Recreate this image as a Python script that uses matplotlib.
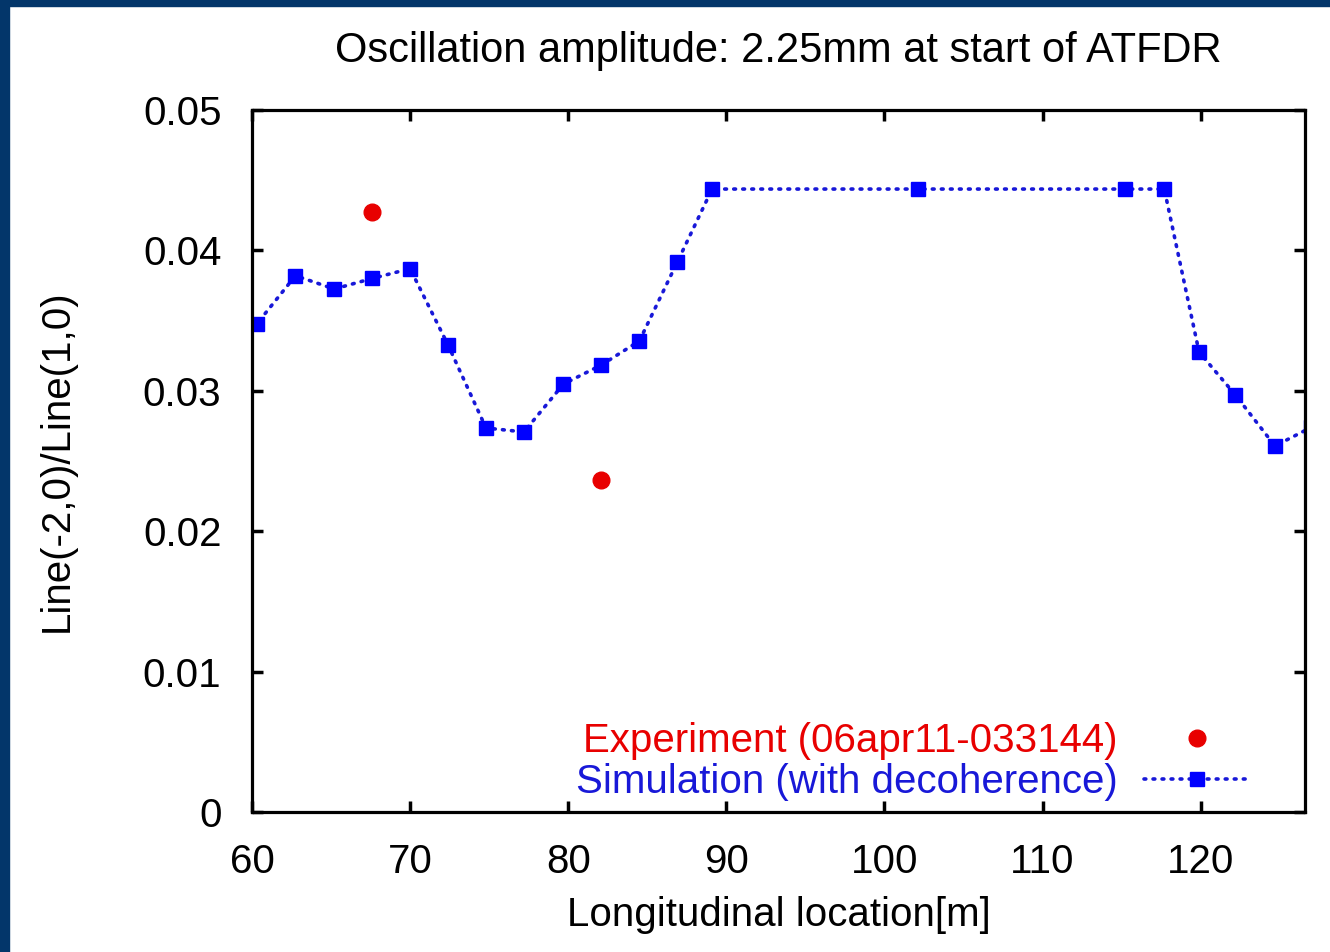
import matplotlib.pyplot as plt
from matplotlib.patches import Rectangle
from matplotlib.ticker import FixedLocator, FixedFormatter

plt.rcParams['font.family'] = ['Liberation Sans', 'DejaVu Sans']

# simulation (with decoherence)
sim_x = [57.9, 60.3, 62.75, 65.2, 67.6, 70.0, 72.4, 74.8, 77.2, 79.7, 82.1, 84.5,
         86.9, 89.1, 102.1, 115.2, 117.7, 119.9, 122.2, 124.7, 127.0]
sim_y = [0.0300, 0.03476, 0.0382, 0.03725, 0.0380, 0.0387, 0.03326, 0.02735, 0.02707,
         0.03048, 0.03184, 0.03355, 0.03917, 0.04437, 0.04437, 0.04437, 0.04437,
         0.03276, 0.0297, 0.02607, 0.0274]

# experiment 06apr11-033144
exp_x = [67.6, 82.05]
exp_y = [0.0427, 0.02365]

xticks = [60, 70, 80, 90, 100, 110, 120]
yticks = [0, 0.01, 0.02, 0.03, 0.04, 0.05]
ytick_labels = ['0', '0.01', '0.02', '0.03', '0.04', '0.05']

fig = plt.figure(figsize=(13.3, 9.52), dpi=100)
fig.patch.set_facecolor('white')

# navy frame on left and top
navy = '#03366a'
fig.patches.append(Rectangle((0, 0), 9 / 1330, 1, transform=fig.transFigure,
                             color=navy, zorder=0))
fig.patches.append(Rectangle((0, 1 - 6 / 952), 1, 6 / 952, transform=fig.transFigure,
                             color=navy, zorder=0))

ax = fig.add_axes([252 / 1330, 1 - 812 / 952, (1305 - 252) / 1330, (812 - 110) / 952])

ax.plot(exp_x, exp_y, linestyle='none', marker='o', ms=12, color='#e80000',
        mec='#e80000', label='Experiment (06apr11-033144)')
ax.plot(sim_x, sim_y, linestyle=(0, (0.5, 2.0)), lw=2.6, dash_capstyle='round',
        color='#1818d8', marker='s', ms=10, mfc='#0000ff', mec='#0000ff',
        label='Simulation (with decoherence)')

ax.set_xlim(60, 126.6)
ax.set_ylim(0, 0.05)
ax.xaxis.set_major_locator(FixedLocator(xticks))
ax.yaxis.set_major_locator(FixedLocator(yticks))
ax.yaxis.set_major_formatter(FixedFormatter(ytick_labels))

ax.tick_params(direction='in', length=8, width=2.5, labelsize=29, pad=22,
               top=True, right=True)
for s in ax.spines.values():
    s.set_linewidth(2.3)

ax.set_xlabel('Longitudinal location[m]', fontsize=29)
ax.xaxis.set_label_coords(0.5, -0.1467)
ax.xaxis.label.set_va('center')
ax.set_ylabel('Line(-2,0)/Line(1,0)', fontsize=29)
ax.yaxis.set_label_coords(-0.185, 0.5)
ax.yaxis.label.set_va('center')
ax.yaxis.label.set_ha('center')

fig.text(0.585, 1 - 51 / 952, 'Oscillation amplitude: 2.25mm at start of ATFDR',
         fontsize=30, ha='center', va='center')

ax.legend(loc='lower right', frameon=False, markerfirst=False, fontsize=29,
          labelcolor='linecolor', handlelength=2.65, handletextpad=0.65,
          labelspacing=0.08, borderaxespad=0.3, bbox_to_anchor=(0.975, -0.025))

plt.savefig('out.png', dpi=100)
